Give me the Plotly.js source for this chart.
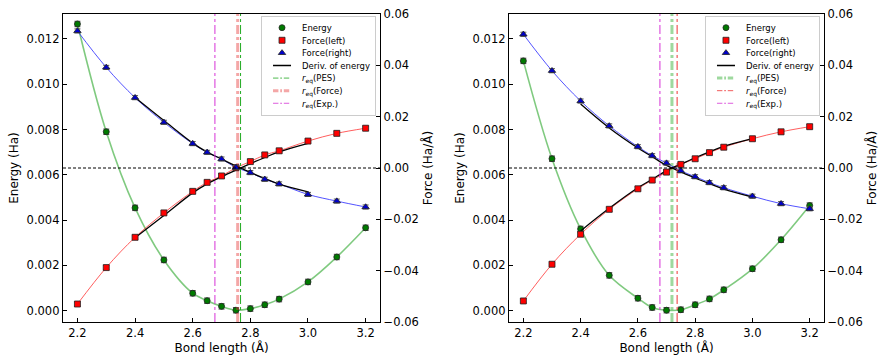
<!DOCTYPE html>
<html>
<head>
<meta charset="utf-8">
<script src="https://cdn.plot.ly/plotly-3.0.1.min.js"></script>
<style>
  html, body { margin: 0; padding: 0; background: #fff; }
  #chart { width: 894px; height: 364px; }
  /* shorter legend line swatches */
  #chart g.legendlines path { transform: translate(8px, 0) scaleX(0.6); }
</style>
</head>
<body>
<div id="chart"></div>
<script>
// bond lengths (Å) sampled in both panels
const bondLength = [2.2, 2.3, 2.4, 2.5, 2.6, 2.65, 2.7, 2.75, 2.8, 2.85, 2.9, 3.0, 3.1, 3.2];
const derivX = [2.4, 2.5, 2.6, 2.65, 2.7, 2.75, 2.8, 2.85, 2.9, 3.0];

// left panel
const energyL = [0.01266, 0.0079, 0.00454, 0.00224, 0.00077, 0.00044, 0.00019, 0.00002, 0.00009, 0.00026, 0.00051, 0.00127, 0.00237, 0.00366];
const forceLeftL = [-0.0530, -0.0388, -0.0270, -0.0175, -0.0091, -0.0056, -0.0031, 0.0001, 0.0025, 0.0051, 0.0067, 0.0105, 0.0135, 0.0155];
const forceRightL = [0.0534, 0.0392, 0.0274, 0.0178, 0.0095, 0.0061, 0.0035, 0.0002, -0.0018, -0.0044, -0.0062, -0.0103, -0.0129, -0.0152];
const derivUpL = [-0.0272, -0.0185, -0.0097, -0.0062, -0.0034, -0.0008, 0.0017, 0.0041, 0.0063, 0.0096];
const derivDownL = [0.0275, 0.0185, 0.0097, 0.0062, 0.0035, 0.0008, -0.0017, -0.0041, -0.0063, -0.0093];
const reqL = { pes: 2.766, force: 2.756, exp: 2.677 };

// right panel
const energyR = [0.01103, 0.00671, 0.00361, 0.00156, 0.00055, 0.00014, 0.00002, 0.00004, 0.00026, 0.00052, 0.00092, 0.00185, 0.00313, 0.00464];
const forceLeftR = [-0.0518, -0.0375, -0.0258, -0.0161, -0.0081, -0.0047, -0.0016, 0.0014, 0.0036, 0.0060, 0.0081, 0.0114, 0.0141, 0.0161];
const forceRightR = [0.0521, 0.0379, 0.0261, 0.0164, 0.0083, 0.0048, 0.0019, -0.0011, -0.0034, -0.0057, -0.0077, -0.0110, -0.0139, -0.0159];
const derivUpR = [-0.0245, -0.0157, -0.0077, -0.0044, -0.0010, 0.0015, 0.0040, 0.0063, 0.0084, 0.0114];
const derivDownR = [0.0249, 0.0156, 0.0078, 0.0044, 0.0010, -0.0015, -0.0039, -0.0061, -0.0082, -0.0113];
const reqR = { pes: 2.719, force: 2.737, exp: 2.677 };

const forceLim = [-0.06, 0.06];

function panelTraces(p, energy, fLeft, fRight, dUp, dDown, req, pesBand) {
    const xa = p === 1 ? 'x' : 'x2';
    const ya = p === 1 ? 'y' : 'y3';
    const yf = p === 1 ? 'y2' : 'y4';
    const lg = p === 1 ? 'legend' : 'legend2';
    const errStyle = { type: 'constant', color: '#555', thickness: 1, width: 3 };
    const mk = (c, sym, s) => ({ color: c, symbol: sym, size: s, line: { color: '#222', width: 0.8 } });

    return [
        // fitted curves
        { x: bondLength, y: energy, xaxis: xa, yaxis: ya, mode: 'lines', line: { shape: 'spline', color: 'rgba(0,150,0,0.5)', width: 1.6 }, showlegend: false, hoverinfo: 'skip' },
        { x: bondLength, y: fLeft, xaxis: xa, yaxis: yf, mode: 'lines', line: { shape: 'spline', color: 'rgba(255,40,40,0.75)', width: 1 }, showlegend: false, hoverinfo: 'skip' },
        { x: bondLength, y: fRight, xaxis: xa, yaxis: yf, mode: 'lines', line: { shape: 'spline', color: 'rgba(40,40,255,0.8)', width: 1 }, showlegend: false, hoverinfo: 'skip' },
        // derivative of the energy
        { x: derivX, y: dUp, xaxis: xa, yaxis: yf, mode: 'lines', name: 'Deriv. of energy', legend: lg, legendrank: 4, line: { shape: 'spline', color: '#000', width: 1.3 } },
        { x: derivX, y: dDown, xaxis: xa, yaxis: yf, mode: 'lines', showlegend: false, line: { shape: 'spline', color: '#000', width: 1.3 } },
        // equilibrium distances
        { x: [req.pes, req.pes], y: forceLim, xaxis: xa, yaxis: yf, mode: 'lines', name: '<i>r</i><sub>eq</sub>(PES)', legend: lg, legendrank: 5,
          line: pesBand ? { color: 'rgba(40,170,40,0.45)', width: 3, dash: 'dashdot' } : { color: '#22aa22', width: 1, dash: 'dashdot' } },
        { x: [req.force, req.force], y: forceLim, xaxis: xa, yaxis: yf, mode: 'lines', name: '<i>r</i><sub>eq</sub>(Force)', legend: lg, legendrank: 6,
          line: pesBand ? { color: '#ee3333', width: 1, dash: 'dashdot' } : { color: 'rgba(230,60,60,0.45)', width: 3, dash: 'dashdot' } },
        { x: [req.exp, req.exp], y: forceLim, xaxis: xa, yaxis: yf, mode: 'lines', name: '<i>r</i><sub>eq</sub>(Exp.)', legend: lg, legendrank: 7,
          line: { color: '#d633d6', width: 1, dash: 'dashdot' } },
        // data points
        { x: bondLength, y: energy, xaxis: xa, yaxis: ya, mode: 'markers', name: 'Energy', legend: lg, legendrank: 1,
          marker: mk('#007a00', 'circle', 6), error_y: Object.assign({ value: 0.00012 }, errStyle) },
        { x: bondLength, y: fLeft, xaxis: xa, yaxis: yf, mode: 'markers', name: 'Force(left)', legend: lg, legendrank: 2,
          marker: mk('#ff0000', 'square', 6), error_y: Object.assign({ value: 0.0008 }, errStyle) },
        { x: bondLength, y: fRight, xaxis: xa, yaxis: yf, mode: 'markers', name: 'Force(right)', legend: lg, legendrank: 3,
          marker: mk('#0000cc', 'triangle-up', 6.5), error_y: Object.assign({ value: 0.0008 }, errStyle) },
    ];
}

const data = [].concat(
    panelTraces(1, energyL, forceLeftL, forceRightL, derivUpL, derivDownL, reqL, false),
    panelTraces(2, energyR, forceLeftR, forceRightR, derivUpR, derivDownR, reqR, true)
);

const tickFont = { family: 'DejaVu Sans', size: 11.5, color: '#000' };
const titleFont = { family: 'DejaVu Sans', size: 12, color: '#000' };
const yDom = [0.1154, 0.9615];

function xAxis(dom, yref) {
    return {
        domain: dom, anchor: yref, range: [2.15, 3.25], tickvals: [2.2, 2.4, 2.6, 2.8, 3.0, 3.2],
        ticktext: ['2.2', '2.4', '2.6', '2.8', '3.0', '3.2'],
        ticks: 'inside', ticklen: 4, tickcolor: '#000', showline: true, mirror: true, linecolor: '#000', linewidth: 1.2,
        showgrid: false, zeroline: false, tickfont: tickFont,
        title: { text: 'Bond length (Å)', font: titleFont, standoff: 3 }
    };
}
function eAxis(xref) {
    return {
        domain: yDom, anchor: xref, range: [-0.0005, 0.0131], tickvals: [0, 0.002, 0.004, 0.006, 0.008, 0.010, 0.012],
        ticktext: ['0.000', '0.002', '0.004', '0.006', '0.008', '0.010', '0.012'],
        ticks: 'inside', ticklen: 4, tickcolor: '#000', showline: true, linecolor: '#000', linewidth: 1.2,
        showgrid: false, zeroline: false, tickfont: tickFont,
        title: { text: 'Energy (Ha)', font: titleFont, standoff: 5 }
    };
}
function fAxis(xref, over) {
    return {
        overlaying: over, anchor: xref, side: 'right', range: forceLim,
        tickvals: [-0.06, -0.04, -0.02, 0, 0.02, 0.04, 0.06],
        ticktext: ['\u22120.06', '\u22120.04', '\u22120.02', '0.00', '0.02', '0.04', '0.06'],
        ticks: 'inside', ticklen: 4, tickcolor: '#000', showline: true, linecolor: '#000', linewidth: 1.2,
        showgrid: false, zeroline: false, tickfont: tickFont,
        title: { text: 'Force (Ha/Å)', font: titleFont, standoff: 5 }
    };
}
const legendStyle = (xr) => ({
    x: xr, xanchor: 'right', y: 0.955, yanchor: 'top', bgcolor: 'rgba(255,255,255,0.85)',
    bordercolor: '#cccccc', borderwidth: 1, font: { family: 'DejaVu Sans', size: 8.5, color: '#000' },
    tracegroupgap: 0, itemwidth: 30, traceorder: 'normal'
});

const layout = {
    width: 894, height: 364,
    margin: { l: 0, r: 0, t: 0, b: 0 },
    paper_bgcolor: '#fff', plot_bgcolor: '#fff',
    showlegend: true,
    xaxis: xAxis([0.0705, 0.4251], 'y'),
    yaxis: eAxis('x'),
    yaxis2: fAxis('x', 'y'),
    xaxis2: xAxis([0.5694, 0.9217], 'y3'),
    yaxis3: eAxis('x2'),
    yaxis4: fAxis('x2', 'y3'),
    legend: legendStyle(0.4206),
    legend2: legendStyle(0.9172),
    shapes: [
        { type: 'line', xref: 'x domain', x0: 0, x1: 1, yref: 'y2', y0: 0, y1: 0, line: { color: '#000', width: 1, dash: '3px,2px' } },
        { type: 'line', xref: 'x2 domain', x0: 0, x1: 1, yref: 'y4', y0: 0, y1: 0, line: { color: '#000', width: 1, dash: '3px,2px' } }
    ]
};

Plotly.newPlot('chart', data, layout, { displayModeBar: false, staticPlot: true }).then(() => {
    // plotly keeps legend rows at least 19px tall; pack them tighter like the original
    const step = 12.6;
    const tr = el => {
        const m = /translate\(([-\d.]+)[ ,]+([-\d.]+)\)/.exec(el.getAttribute('transform') || '');
        return m ? [parseFloat(m[1]), parseFloat(m[2])] : [0, 0];
    };
    document.querySelectorAll('#chart g.legend, #chart g.legend2').forEach(lg => {
        const items = lg.querySelectorAll('g.traces');
        items.forEach((it, i) => {
            it.setAttribute('transform', `translate(${tr(it)[0]},${5 + step * i + step / 2})`);
        });
        const bg = lg.querySelector('rect.bg');
        if (bg) bg.setAttribute('height', 10 + step * items.length);
    });
});
</script>
</body>
</html>
